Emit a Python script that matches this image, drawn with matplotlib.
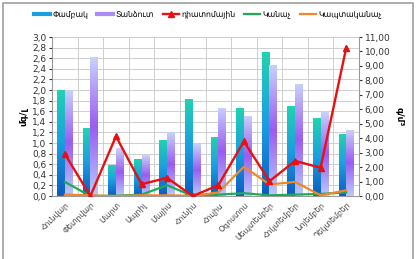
import matplotlib
matplotlib.use("Agg")
import matplotlib.pyplot as plt
import numpy as np
from matplotlib.colors import LinearSegmentedColormap
from matplotlib.patches import Rectangle
from matplotlib.lines import Line2D
from matplotlib.ticker import FuncFormatter, MultipleLocator

plt.rcParams['font.family'] = ['DejaVu Sans', 'Noto Sans']

months = ["Հունվար", "Փետրվար", "Մարտ", "Ապրիլ", "Մայիս", "Հունիս", "Հուլիս",
          "Օգոստոս", "Սեպտեմբեր", "Հոկտեմբեր", "Նոյեմբեր", "Դեկտեմբեր"]
pambak = [2.0, 1.28, 0.59, 0.69, 1.06, 1.84, 1.12, 1.67, 2.72, 1.70, 1.47, 1.17]
tandzut = [2.0, 2.62, 0.90, 0.77, 1.20, 0.98, 1.67, 1.51, 2.48, 2.12, 1.58, 1.25]
diatom = [2.92, 0.0, 4.13, 0.82, 1.26, 0.0, 0.75, 3.78, 1.03, 2.43, 1.96, 10.26]
green = [0.98, 0.0, 0.02, 0.10, 0.75, 0.0, 0.10, 0.20, 0.05, 0.10, 0.15, 0.25]
bluegreen = [0.10, 0.05, 0.0, 0.05, 0.05, 0.02, 0.25, 2.03, 0.80, 0.98, 0.05, 0.40]

fig = plt.figure(figsize=(4.16, 2.59), dpi=100)
fig.patches.append(Rectangle((0.008, -0.02), 0.985, 1.01, transform=fig.transFigure,
                             fill=False, edgecolor='#a0a0a0', linewidth=1.2))
ax = fig.add_axes([0.125, 0.243, 0.738, 0.614])
ax2 = ax.twinx()

x = np.arange(len(months))
w = 0.3
cm_p = LinearSegmentedColormap.from_list('p', ['#0b5cc0', '#1a9fe0', '#22d4ae'])
cm_t = LinearSegmentedColormap.from_list('t', ['#b8cafb', '#9a5cf0', '#c8d2fb'])

bars1 = ax.bar(x - w / 2, pambak, w, color='#1aa3e0', label='Փամբակ', zorder=2)
bars2 = ax.bar(x + w / 2, tandzut, w, color='#a98cf5', label='Տանձուտ', zorder=2)

grad = np.linspace(0, 1, 256).reshape(-1, 1)
for bars, cm in ((bars1, cm_p), (bars2, cm_t)):
    for b in bars:
        bx = b.get_x()
        bw, bh = b.get_width(), b.get_height()
        im = ax.imshow(grad, cmap=cm, origin='lower', aspect='auto',
                       extent=[bx, bx + bw, 0, max(bh, 1e-3)], zorder=2.1)
        im.set_clip_path(b)

ax.set_xlim(-0.5, len(months) - 0.5)
ax.set_ylim(0, 3.0)
ax.yaxis.set_major_locator(MultipleLocator(0.2))
ax.yaxis.set_major_formatter(FuncFormatter(lambda v, p: f"{v:.1f}".replace('.', ',')))
ax.set_xticks(x)
ax.set_xticklabels(months, rotation=45, ha='right', rotation_mode='anchor', fontsize=5.6, color='#444444')
ax.set_xticks(np.arange(-0.5, len(months), 1), minor=True)
ax.grid(True, which='minor', axis='x', color='#c8c8c8', linewidth=0.6, zorder=0)
ax.grid(True, which='major', axis='y', color='#c8c8c8', linewidth=0.6, zorder=0)
ax.tick_params(axis='x', which='both', length=0, pad=3)
ax.tick_params(axis='y', labelsize=6.5, length=2, colors='#333333', pad=2)
ax.set_axisbelow(True)
ax.set_ylabel('մգ/լ', fontsize=6.5, fontweight='bold', labelpad=3)

l1, = ax2.plot(x, diatom, color='#e81010', marker='^', markersize=4, linewidth=1.7, zorder=5)
l2, = ax2.plot(x, green, color='#1eaa5a', linewidth=1.6, zorder=4)
l3, = ax2.plot(x, bluegreen, color='#f0882a', linewidth=1.6, zorder=4)
ax2.set_ylim(0, 11)
ax2.yaxis.set_major_locator(MultipleLocator(1))
ax2.yaxis.set_major_formatter(FuncFormatter(lambda v, p: f"{v:.2f}".replace('.', ',')))
ax2.tick_params(axis='y', labelsize=6.5, length=2, colors='#333333', pad=2)
ax2.set_ylabel('գ/մ³', fontsize=6.5, fontweight='bold', rotation=270, labelpad=10)

for a in (ax, ax2):
    for s in a.spines.values():
        s.set_visible(False)
ax.spines['left'].set_visible(True)
ax.spines['left'].set_color('#999999')
ax2.spines['right'].set_visible(True)
ax2.spines['right'].set_color('#999999')
ax.spines['bottom'].set_visible(True)
ax.spines['bottom'].set_color('#999999')

h1 = Line2D([], [], color='#1a9fe0', linewidth=3)
h2 = Line2D([], [], color='#a98cf5', linewidth=3)
fig.legend([h1, h2, l1, l2, l3], ['Փամբակ', 'Տանձուտ', 'դիատոմային', 'Կանաչ', 'Կապտականաչ'],
           loc='center', bbox_to_anchor=(0.5, 0.945), ncol=5, frameon=False, fontsize=5.6,
           handlelength=2.0, handletextpad=0.3, columnspacing=1.2)

fig.savefig('out.png', dpi=100)
